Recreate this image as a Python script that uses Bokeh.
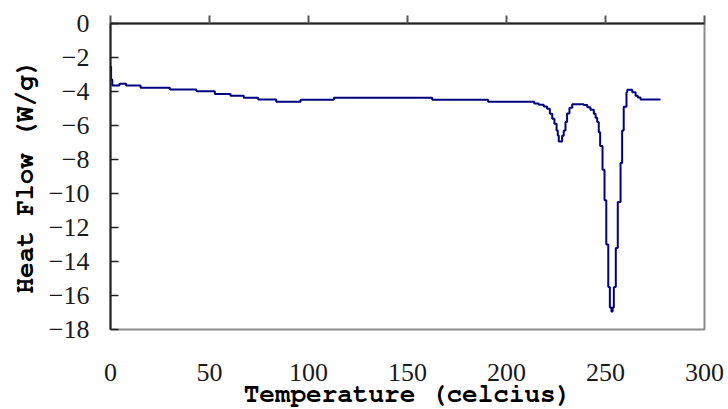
from bokeh.plotting import figure
from bokeh.models import Range1d, LinearAxis, FixedTicker, CustomJSTickFormatter, Title
from bokeh.embed import file_html
from bokeh.resources import INLINE

# ---- data ----
temp = [0, 0.3, 0.9, 4.5, 7.9, 15.2, 30.0, 43.4, 52.7, 60.6,
        67.3, 74.6, 83.7, 96.0, 112.8, 162.5, 190.7, 214.0, 216.3, 218.8,
        220.5, 221.9, 223.1, 224.2, 225.3, 225.9, 226.4, 228.1, 228.9, 229.8,
        230.6, 231.8, 233.2, 239.0, 240.8, 242.4, 244.1, 245.0, 245.8, 246.6,
        247.3, 248.5, 249.5, 250.4, 251.4, 252.2, 253.0, 253.6, 254.2, 255.2,
        256.2, 257.6, 258.4, 259.2, 260.6, 261.0, 263.5, 265.2, 266.3, 267.7,
        277.8]
heat_flow = [-2.55, -3.3, -3.65, -3.55, -3.65, -3.78, -3.88, -3.98, -4.14, -4.25,
             -4.37, -4.47, -4.6, -4.49, -4.37, -4.49, -4.6, -4.7, -4.78, -4.88,
             -5.02, -5.31, -5.61, -5.9, -6.29, -6.59, -6.94, -6.6, -6.3, -5.8,
             -5.3, -4.95, -4.75, -4.8, -4.92, -5.08, -5.31, -5.55, -5.8, -6.4,
             -7.2, -8.6, -10.4, -13.0, -15.5, -16.7, -16.94, -16.7, -15.5, -13.2,
             -10.5, -8.2, -6.3, -4.9, -4.05, -3.9, -4.05, -4.25, -4.35, -4.47,
             -4.47]

x_ticks = [0, 50, 100, 150, 200, 250, 300]
x_tick_labels = ["0", "50", "100", "150", "200", "250", "300"]
y_ticks = [0, -2, -4, -6, -8, -10, -12, -14, -16, -18]
y_tick_labels = ["0", "\u22122", "\u22124", "\u22126", "\u22128", "\u221210",
                 "\u221212", "\u221214", "\u221216", "\u221218"]

x_label = "Temperature (celcius)"
y_label = "Heat Flow (W/g)"

TICK_FONT = "'Liberation Serif', 'DejaVu Serif', serif"
LABEL_FONT = "'Nimbus Mono PS', 'FreeMono', 'Liberation Mono', monospace"

p = figure(width=728, height=409, output_backend="svg", toolbar_location=None,
           x_range=Range1d(0, 300), y_range=Range1d(-18, 0),
           min_border_left=110, min_border_right=24, min_border_top=23,
           min_border_bottom=80)
p.grid.visible = False
p.background_fill_color = "white"
p.border_fill_color = "white"
p.outline_line_color = "#8c8c8c"
p.outline_line_width = 2

# bottom axis: tick labels only
xa = p.xaxis[0]
xa.ticker = FixedTicker(ticks=x_ticks)
xa.major_label_overrides = {t: s for t, s in zip(x_ticks, x_tick_labels)}
xa.axis_line_color = None
xa.major_tick_line_color = None
xa.minor_tick_line_color = None
xa.major_tick_out = 0
xa.major_tick_in = 0
xa.major_label_standoff = 34
xa.major_label_text_font = TICK_FONT
xa.major_label_text_font_size = "26px"
xa.major_label_text_color = "#1a1a1a"

# x axis title as a panel below the tick labels
xtitle = Title(text=x_label, align="center", vertical_align="middle",
               text_font=LABEL_FONT, text_font_style="bold",
               text_font_size="26px", text_color="black", standoff=-8)
p.add_layout(xtitle, "below")

# top axis: line with outward ticks, no labels
top = LinearAxis(ticker=FixedTicker(ticks=x_ticks),
                 formatter=CustomJSTickFormatter(code="return ''"))
top.axis_line_color = "#222222"
top.axis_line_width = 2
top.major_tick_out = 8
top.major_tick_in = 0
top.major_tick_line_color = "#555555"
top.major_tick_line_width = 2
top.minor_tick_line_color = None
top.major_label_standoff = 0
top.major_label_text_font_size = "1px"
p.add_layout(top, "above")

# left axis
ya = p.yaxis[0]
ya.ticker = FixedTicker(ticks=y_ticks)
ya.major_label_overrides = {t: s for t, s in zip(y_ticks, y_tick_labels)}
ya.axis_line_color = "#222222"
ya.axis_line_width = 2
ya.major_tick_in = 8
ya.major_tick_out = 0
ya.major_tick_line_color = "#222222"
ya.major_tick_line_width = 1.5
ya.minor_tick_line_color = None
ya.major_label_standoff = 21
ya.major_label_text_font = TICK_FONT
ya.major_label_text_font_size = "26px"
ya.major_label_text_color = "#1a1a1a"
ya.axis_label = y_label
ya.axis_label_text_font = LABEL_FONT
ya.axis_label_text_font_style = "bold"
ya.axis_label_text_font_size = "26px"
ya.axis_label_text_color = "black"
ya.axis_label_standoff = 8

p.step(temp, heat_flow, mode="after", line_color="#00007f", line_width=2)

open("out.html", "w").write(file_html(p, INLINE))
